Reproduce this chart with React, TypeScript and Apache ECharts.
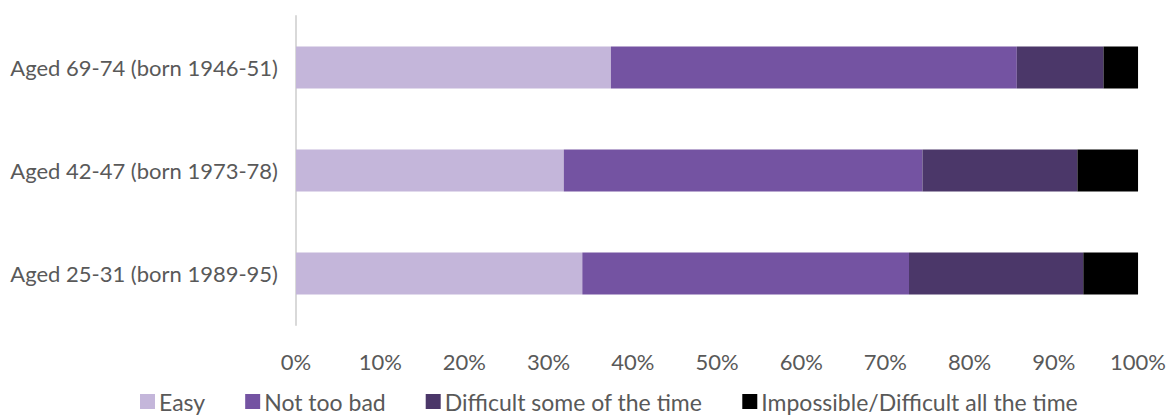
import React, { useEffect, useRef } from "react";
import * as echarts from "echarts";

const categories = [
  "Aged 25-31 (born 1989-95)",
  "Aged 42-47 (born 1973-78)",
  "Aged 69-74 (born 1946-51)",
];
const seriesNames = [
  "Easy",
  "Not too bad",
  "Difficult some of the time",
  "Impossible/Difficult all the time",
];
const easy = [34.0, 31.8, 37.4];
const notTooBad = [38.8, 42.6, 48.2];
const difficultSome = [20.7, 18.4, 10.3];
const impossible = [6.5, 7.2, 4.1];
const colors = ["#c4b6da", "#7453a2", "#4b3769", "#000000"];
const xTicks = [0, 10, 20, 30, 40, 50, 60, 70, 80, 90, 100];

const FONT = "Lato, 'Open Sans', sans-serif";

export default function App() {
  const ref = useRef<HTMLDivElement>(null);
  useEffect(() => {
    if (!ref.current) return;
    const chart = echarts.init(ref.current, undefined, { renderer: "svg" });
    const data = [easy, notTooBad, difficultSome, impossible];
    chart.setOption({
      animation: false,
      textStyle: { fontFamily: FONT },
      grid: { left: 296, right: 28, top: 16, bottom: 93, containLabel: false },
      legend: {
        top: 390,
        left: 140,
        itemWidth: 15,
        itemHeight: 15,
        itemGap: 40,
        padding: 0,
        icon: "rect",
        textStyle: { color: "#595959", fontSize: 23, fontFamily: FONT, padding: [0, 0, 0, -1] },
        data: seriesNames,
      },
      xAxis: {
        type: "value",
        min: 0,
        max: 100,
        interval: 10,
        axisLine: { show: false },
        axisTick: { show: false },
        splitLine: { show: false },
        axisLabel: {
          color: "#595959",
          fontSize: 22,
          fontFamily: FONT,
          margin: 25,
          formatter: (v: number) => (xTicks.includes(v) ? v + "%" : ""),
        },
      },
      yAxis: {
        type: "category",
        data: categories,
        axisLine: { show: true, lineStyle: { color: "#d9d9d9", width: 2 } },
        axisTick: { show: false },
        axisLabel: { color: "#595959", fontSize: 22, fontFamily: FONT, margin: 18 },
      },
      series: seriesNames.map((name, i) => ({
        name,
        type: "bar",
        stack: "total",
        barWidth: "41%",
        itemStyle: { color: colors[i] },
        data: data[i],
      })),
    });
    return () => chart.dispose();
  }, []);
  return <div ref={ref} style={{ width: 1169, height: 418, position: "absolute", left: 0, top: 0 }} />;
}
